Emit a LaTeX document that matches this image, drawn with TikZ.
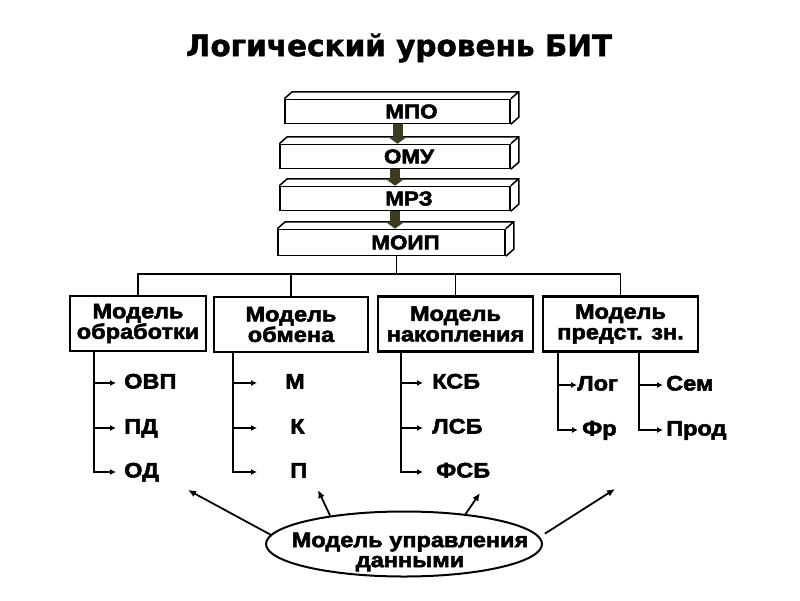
\documentclass[tikz,border=0pt]{standalone}
\usepackage{fontspec}
\setmainfont[FakeStretch=1.12, BoldFeatures={FakeBold=2.5}]{Liberation Sans}
\newfontfamily\titlefont[BoldFeatures={FakeBold=1.5}]{DejaVu Sans}
\usetikzlibrary{arrows.meta,shapes.geometric}

\tikzset{
  slab/.style={draw, line width=1.5pt, fill=white, minimum height=24pt, inner sep=0pt,
    execute at begin node=\hspace*{28pt},
    font=\fontsize{20}{20}\selectfont\bfseries},
  model/.style={draw, line width=2.2pt, minimum height=55pt, inner sep=0pt, align=center,
    font=\fontsize{21}{20.5}\selectfont\bfseries},
  item/.style={inner sep=0pt, anchor=west, text height=15pt, text depth=4pt,
    font=\fontsize{21}{21}\selectfont\bfseries},
  bus/.style={line width=1.6pt},
  branch/.style={line width=1.8pt, -{Latex[length=6pt,width=6pt]}},
  flow/.style={line width=1.8pt, -{Latex[length=8pt,width=7pt]}},
  pipe/.style={line width=10pt, draw={rgb,255:red,62;green,60;blue,30},
    -{Triangle[length=6pt,width=16pt]}},
}

\begin{document}
\begin{tikzpicture}[x=1pt,y=-1pt]
  \useasboundingbox (0,0) rectangle (800,600);
  \node[font=\titlefont\fontsize{29.5}{30}\selectfont\bfseries] (title) at (399,48) {Логический уровень БИТ};

  % levels
  \node[slab, minimum width=225pt] (mpo) at (397.5,111.5) {МПО};
  \node[slab, minimum width=230pt] (omu) at (395,156.5) {ОМУ};
  \node[slab, minimum width=230pt] (mrz) at (395,198.5) {МРЗ};
  \node[slab, minimum width=227pt, minimum height=26pt] (moip) at (391.5,242.5) {МОИП};
  \foreach \n in {mpo,omu,mrz,moip}
    \draw[line width=1.5pt] (\n.north west) -- ++(8,-7) -| ([shift={(8,-7)}]\n.south east)
      -- (\n.south east) (\n.north east) -- ++(8,-7);
  \draw[pipe] (mpo.south) -- (mpo.south |- omu.north);
  \draw[pipe] (omu.south) -- (omu.south |- mrz.north);
  \draw[pipe] (mrz.south) -- (mrz.south |- moip.north);

  % models
  \node[model, minimum width=136pt] (b1) at (138,323.5) {Модель\\обработки};
  \node[model, minimum width=154pt] (b2) at (291,324.5) {Модель\\обмена};
  \node[model, minimum width=155pt] (b3) at (455.5,324) {Модель\\накопления};
  \node[model, minimum width=155pt] (b4) at (620.5,324) {Модель\\предст. зн.};

  \draw[bus] ([xshift=5pt]moip.south) -- ++(0,18) coordinate (bus);
  \draw[bus] (b1.north) |- (bus) -| (b4.north);
  \draw[bus] (b2.north) -- (b2.north |- bus);
  \draw[bus] (b3.north) -- (b3.north |- bus);

  % items
  \node[item] (ovp) at (124,383) {ОВП};
  \node[item] (pd) at (124,428) {ПД};
  \node[item] (od) at (124,472) {ОД};
  \node[item] (m) at (285,383) {М};
  \node[item] (k) at (290,428) {К};
  \node[item] (p) at (290,472) {П};
  \node[item] (ksb) at (432,383) {КСБ};
  \node[item] (lsb) at (432,428) {ЛСБ};
  \node[item] (fsb) at (436,472) {ФСБ};
  \node[item] (log) at (577,385) {Лог};
  \node[item] (fr) at (582,430) {Фр};
  \node[item] (sem) at (666,385) {Сем};
  \node[item] (prod) at (666,430) {Прод};

  \foreach \i in {ovp,pd,od}
    \draw[branch, shorten >=8pt] ([xshift=25pt]b1.south west) |- (\i.west);
  \foreach \i/\s in {m/28,k/33,p/33}
    \draw[branch, shorten >=\s pt] ([xshift=20pt]b2.south west) |- (\i.west);
  \foreach \i/\s in {ksb/9,lsb/9,fsb/13}
    \draw[branch, shorten >=\s pt] ([xshift=24pt]b3.south west) |- (\i.west);
  \foreach \i/\s in {log/0,fr/4}
    \draw[branch, shorten >=\s pt] ([xshift=16pt]b4.south west) |- (\i.west);
  \foreach \i in {sem,prod}
    \draw[branch, shorten >=3pt] ([xshift=97pt]b4.south west) |- (\i.west);

  % data control
  \node[draw, ellipse, line width=2pt, minimum width=276pt, minimum height=65pt, inner sep=0pt]
    (ctl) at (404,544) {};
  \node[align=center, inner sep=0pt, font=\fontsize{21}{20}\selectfont\bfseries] (ctltext)
    at ([shift={(6,8)}]ctl.center) {Модель управления\\данными};
  \coordinate (t1) at (188,490);
  \coordinate (t2) at (318,490);
  \coordinate (t3) at (480,493);
  \coordinate (t4) at (615,489);
  \draw[flow] (ctl.176) -- (t1);
  \draw[flow] (ctl.159) -- (t2);
  \draw[flow] (ctl.26) -- (t3);
  \draw[flow, shorten <=6pt] (ctl.3) -- (t4);
\end{tikzpicture}
\end{document}
